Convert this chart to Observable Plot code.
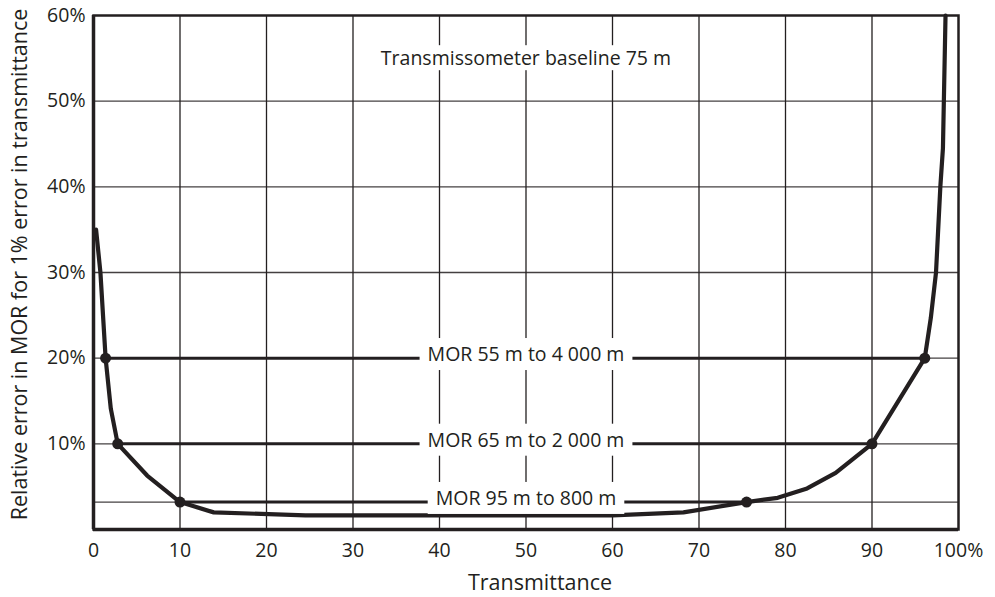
<!DOCTYPE html>
<html><head><meta charset="utf-8">
<script src="https://cdn.jsdelivr.net/npm/d3@7"></script>
<script src="https://cdn.jsdelivr.net/npm/@observablehq/plot@0.6"></script>
<style>body{margin:0;background:#fff;} svg{display:block}</style>
</head><body><div id="chart"></div>
<script>
// Curve: relative error in MOR (%) vs transmittance (%)
const curveT   = [0.3, 0.8, 1.4, 2.0, 2.8, 6.2, 10, 13.9, 24.5, 60, 68.2, 75.5, 79.1, 82.5, 85.8, 90, 96.1, 96.8, 97.4, 97.9, 98.2, 98.5];
const curveErr = [35, 30, 20, 14.1, 10, 6.3, 3.2, 2.0, 1.65, 1.65, 2.0, 3.2, 3.7, 4.8, 6.6, 10, 20, 24.7, 30, 40, 44.5, 60];

// MOR ranges
const morLabels = ["MOR 55 m to 4 000 m", "MOR 65 m to 2 000 m", "MOR 95 m to 800 m"];
const morError  = [20, 10, 3.2];
const morFrom   = [1.4, 2.8, 10];
const morTo     = [96.1, 90, 75.5];
const morLabelT = [50, 50, 50];

const noteText = "Transmissometer baseline 75 m";
const noteT = 50, noteErr = 55;

const xTicks = [0, 10, 20, 30, 40, 50, 60, 70, 80, 90, 100];
const yTicks = [10, 20, 30, 40, 50, 60];
const xGrid = [10, 20, 30, 40, 50, 60, 70, 80, 90];
const yGrid = [10, 20, 30, 40, 50, 3.2];

const xTitle = "Transmittance";
const yTitle = "Relative error in MOR for 1% error in transmittance";

const ink = "#231f20";
const curve = curveT.map((t, i) => ({t, e: curveErr[i]}));
const mor = morLabels.map((label, i) => ({label, e: morError[i], from: morFrom[i], to: morTo[i], lt: morLabelT[i]}));
const dots = mor.flatMap(d => [{t: d.from, e: d.e}, {t: d.to, e: d.e}]);

const svg = Plot.plot({
  width: 995, height: 597,
  marginLeft: 93, marginRight: 37, marginTop: 15, marginBottom: 68,
  x: {domain: [0, 100]},
  y: {domain: [0, 60]},
  style: {fontFamily: "'Open Sans', sans-serif", fontSize: "19.5px", color: ink, background: "#fff"},
  marks: [
    Plot.ruleX(xGrid, {stroke: ink, strokeWidth: 1.3}),
    Plot.ruleY(yGrid, {stroke: ink, strokeWidth: 1.3, strokeOpacity: 0.85}),
    Plot.ruleY(mor, {y: "e", x1: "from", x2: "to", stroke: ink, strokeWidth: 3}),
    Plot.line(curve, {x: "t", y: "e", stroke: ink, strokeWidth: 4.2, strokeLinejoin: "round"}),
    Plot.dot(dots, {x: "t", y: "e", r: 5.5, fill: ink}),
    Plot.frame({stroke: ink, strokeWidth: 2.5}),
    Plot.ruleX([0], {stroke: ink, strokeWidth: 3.5}),
    Plot.ruleY([0], {stroke: ink, strokeWidth: 3.5}),
    Plot.axisX({ticks: xTicks, tickSize: 0, tickPadding: 14, tickFormat: d => d === 100 ? "100%" : String(d), label: null, fill: ink}),
    Plot.axisY({ticks: yTicks, tickSize: 0, tickPadding: 8, tickFormat: d => d + "%", label: null, fill: ink}),
    Plot.text([xTitle], {frameAnchor: "bottom", textAnchor: "middle", lineAnchor: "middle", dx: 14, dy: 54, fontSize: 21.5, fill: ink}),
    Plot.text([yTitle], {frameAnchor: "left", textAnchor: "middle", lineAnchor: "middle", rotate: -90, dx: -73, dy: -8, fontSize: 21.5, fill: ink}),
    Plot.text(mor, {x: "lt", y: "e", text: "label", dy: -3.5, fill: ink, fontSize: 19.5}),
    Plot.text([noteText], {x: () => noteT, y: () => noteErr, fill: ink, fontSize: 19.5})
  ]
});
document.getElementById("chart").append(svg);

// white boxes behind the in-plot labels (interrupt grid and range lines)
const pads = new Map(morLabels.map(l => [l, [8, 16]]));
pads.set(noteText, [8, 12.5]);
svg.querySelectorAll("text").forEach(t => {
  const p = pads.get(t.textContent);
  if (!p) return;
  const b = t.getBBox();
  const cy = b.y + b.height * 0.523;
  const r = document.createElementNS("http://www.w3.org/2000/svg", "rect");
  r.setAttribute("x", b.x - p[0]);
  r.setAttribute("width", b.width + 2 * p[0]);
  r.setAttribute("y", cy - p[1]);
  r.setAttribute("height", 2 * p[1]);
  r.setAttribute("fill", "#fff");
  if (t.getAttribute("transform")) r.setAttribute("transform", t.getAttribute("transform"));
  t.parentNode.insertBefore(r, t);
});
</script>
</body></html>
